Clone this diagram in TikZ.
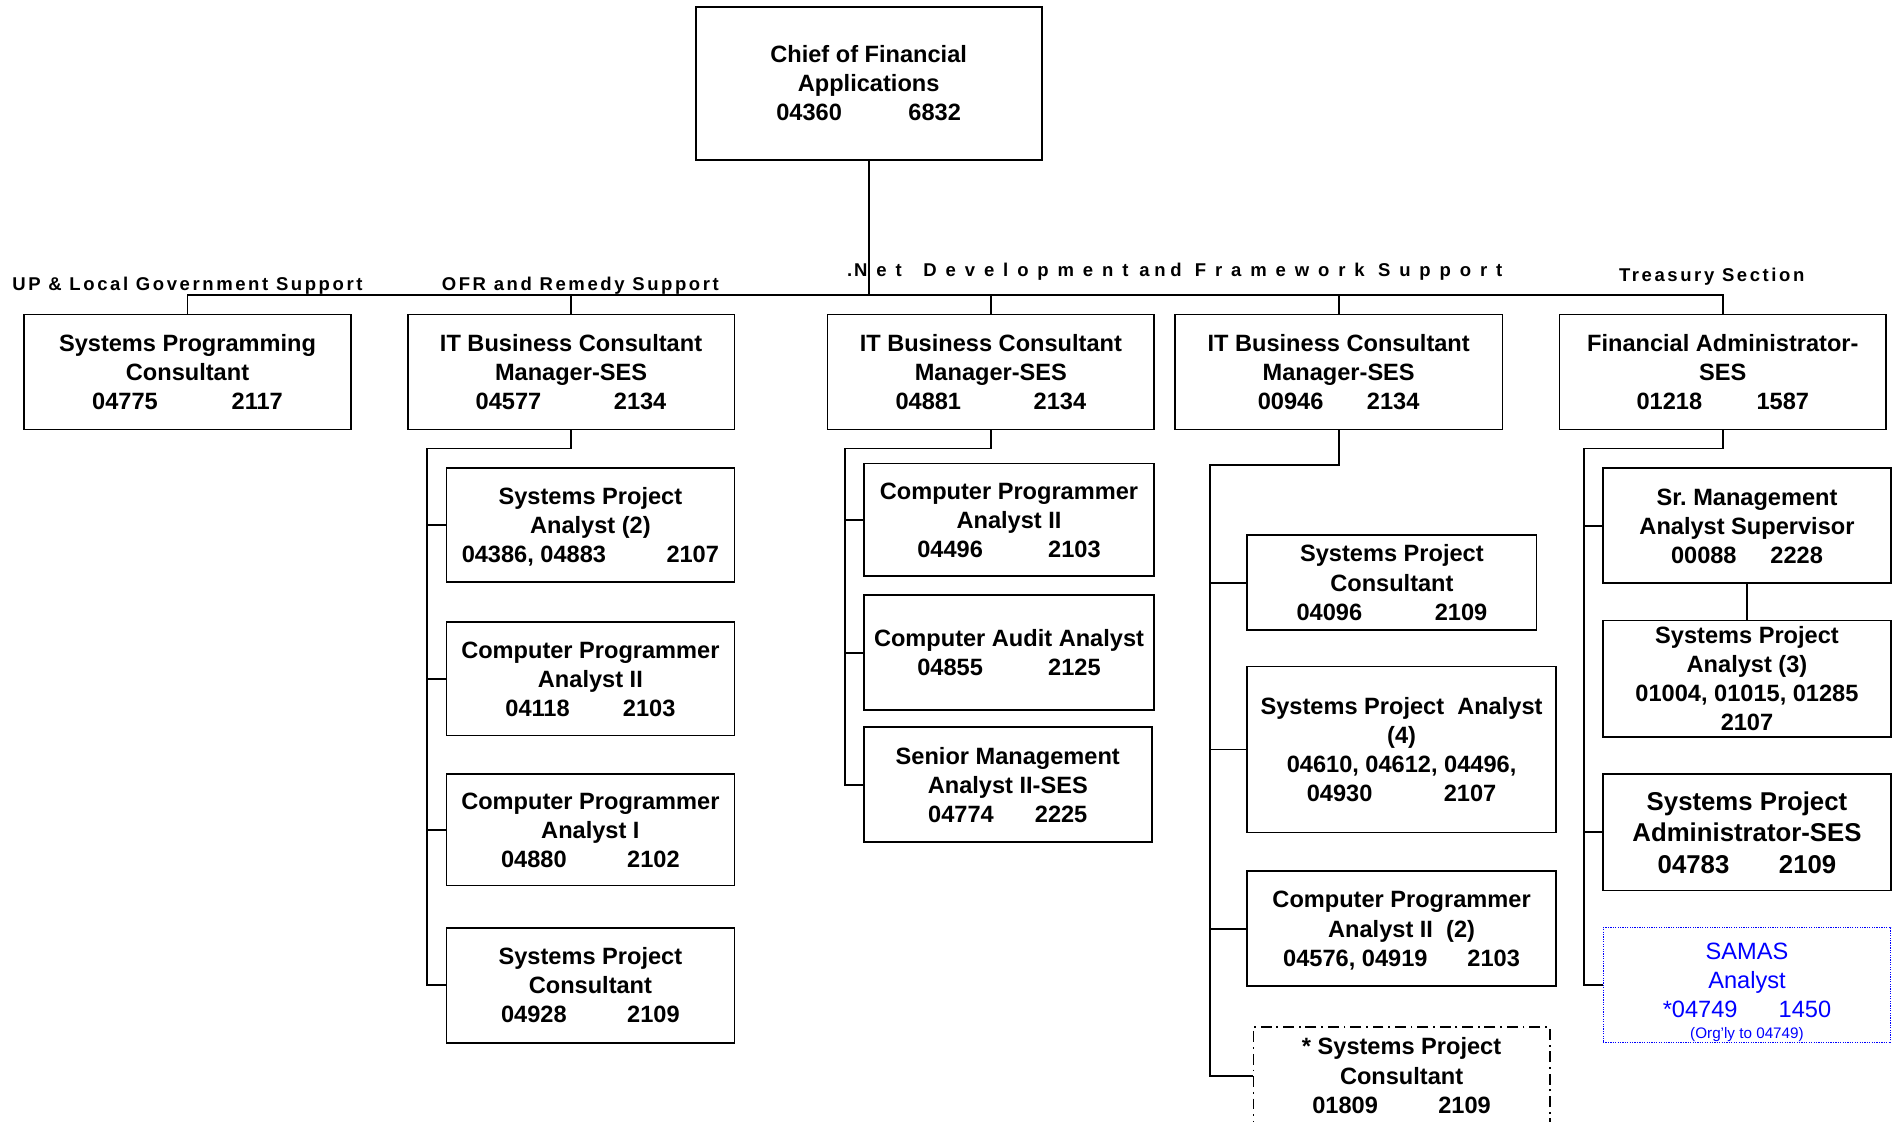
\documentclass[tikz,border=0pt]{standalone}
\usepackage{fontspec}
\setmainfont{Liberation Sans}
\usetikzlibrary{calc}
\definecolor{samasblue}{RGB}{0,0,255}
% line struts keep the text block centred on the cap line of each row
\newcommand\rs{\rule[-5pt]{0pt}{24pt}}
\newcommand\rsb{\rule[-5.4pt]{0pt}{26pt}}
\newcommand\boxfont{\fontsize{19.5}{24}\selectfont\bfseries}
\newcommand\bigboxfont{\fontsize{21.3}{26}\selectfont\bfseries}
\newcommand\secfont{\fontsize{15.3}{18}\selectfont\bfseries\addfontfeature{LetterSpace=14}}
\newcommand\wide[1]{{\addfontfeature{LetterSpace=48}#1}}
\newcommand\midspaced[1]{{\addfontfeature{LetterSpace=25}#1}}

\begin{document}
\frenchspacing
\begin{tikzpicture}[x=1pt,y=-1pt,
  box/.style={draw, line width=1.4pt, inner sep=0pt, align=center, font=\boxfont},
  dashdotbox/.style={box, dash pattern=on 9pt off 4pt on 1.5pt off 4pt},
  dotbox/.style={draw=samasblue, line width=0.8pt, dash pattern=on 1pt off 1pt, inner sep=0pt},
  link/.style={line width=1.6pt},
  section/.style={inner sep=0pt, anchor=base west, font=\secfont},
]
\useasboundingbox (0,0) rectangle (1568,927);
\clip (0,0) rectangle (1568,927);

% section headings
\node[section] (hup)  at (10,240.5)   {UP \& Local Government Support};
\node[section] (hofr) at (365,240.5)  {OFR and Remedy Support};
\node[section] (hnet) at (700,228.5)
  {.\hspace{1.5pt}\wide{Net}\hspace{18pt}\wide{Development}\hspace{9pt}\midspaced{and}\hspace{11pt}\wide{Framework}\hspace{11pt}\wide{Support}};
\node[section] (htr)  at (1338,232.5) {Treasury Section};

% head of the unit
\node[box, minimum width=286pt, minimum height=126pt] (chief) at (718,69)
  {\rs Chief of Financial\\\rs Applications\\\rs 04360\hspace{55pt}6832};

% section leads
\node[box, minimum width=270pt, minimum height=95pt] (spc1) at (155,307.5)
  {\rs Systems Programming\\\rs Consultant\\\rs 04775\hspace{61pt}2117};
\node[box, minimum width=270pt, minimum height=95pt] (itb1) at (472,307.5)
  {\rs IT Business Consultant\\\rs Manager-SES\\\rs 04577\hspace{60pt}2134};
\node[box, minimum width=270pt, minimum height=95pt] (itb2) at (819,307.5)
  {\rs IT Business Consultant\\\rs Manager-SES\\\rs 04881\hspace{60pt}2134};
\node[box, minimum width=271pt, minimum height=95pt] (itb3) at (1106.5,307.5)
  {\rs IT Business Consultant\\\rs Manager-SES\\\rs 00946\hspace{36pt}2134};
\node[box, minimum width=270pt, minimum height=95pt] (fa) at (1424,307.5)
  {\rs Financial Administrator-\\\rs SES\\\rs 01218\hspace{45pt}1587};

% OFR and Remedy Support
\node[box, minimum width=238pt, minimum height=94pt] (spa2) at (488,434)
  {\rs Systems Project\\\rs Analyst (2)\\\rs 04386, 04883\hspace{50pt}2107};
\node[box, minimum width=238pt, minimum height=94pt] (cpa2a) at (488,561)
  {\rs Computer Programmer\\\rs Analyst II\\\rs 04118\hspace{44pt}2103};
\node[box, minimum width=238pt, minimum height=92pt] (cpa1) at (488,686)
  {\rs Computer Programmer\\\rs Analyst I\\\rs 04880\hspace{50pt}2102};
\node[box, minimum width=238pt, minimum height=95pt] (spc2) at (488,814.5)
  {\rs Systems Project\\\rs Consultant\\\rs 04928\hspace{50pt}2109};

% .Net development
\node[box, minimum width=240pt, minimum height=93pt] (cpa2b) at (834,429.5)
  {\rs Computer Programmer\\\rs Analyst II\\\rs 04496\hspace{54pt}2103};
\node[box, minimum width=240pt, minimum height=95pt] (caa) at (834,539.5)
  {\rs Computer Audit Analyst\\\rs 04855\hspace{54pt}2125};
\node[box, minimum width=238pt, minimum height=95pt] (sma) at (833,648.5)
  {\rs Senior Management\\\rs Analyst II-SES\\\rs 04774\hspace{34pt}2225};

% framework support
\node[box, minimum width=239pt, minimum height=79pt] (spc3) at (1150.5,481.5)
  {\rs Systems Project\\\rs Consultant\\\rs 04096\hspace{60pt}2109};
\node[box, minimum width=255pt, minimum height=137pt] (spa4) at (1158.5,619.5)
  {\rs Systems Project\ \ Analyst\\\rs (4)\\\rs 04610, 04612, 04496,\\\rs 04930\hspace{59pt}2107};
\node[box, minimum width=255pt, minimum height=95pt] (cpa2c) at (1158.5,767.5)
  {\rs Computer Programmer\\\rs Analyst II\ \ (2)\\\rs 04576, 04919\hspace{33pt}2103};
\node[dashdotbox, minimum width=245pt, minimum height=80pt] (spc4) at (1158.5,889)
  {\rs * Systems Project\\\rs Consultant\\\rs 01809\hspace{50pt}2109};

% Treasury section
\node[box, minimum width=238pt, minimum height=95pt] (sr) at (1444,434.5)
  {\rs Sr. Management\\\rs Analyst Supervisor\\\rs 00088\hspace{28pt}2228};
\node[box, minimum width=238pt, minimum height=94pt] (spa3) at (1444,561)
  {\rs Systems Project\\\rs Analyst (3)\\\rs 01004, 01015, 01285\\\rs 2107};
\node[box, font=\bigboxfont, minimum width=238pt, minimum height=96pt] (admin) at (1444,688)
  {\rsb Systems Project\\\rsb Administrator-SES\\\rsb 04783\hspace{41pt}2109};
\node[dotbox, minimum width=238pt, minimum height=95pt] (samas) at (1444,814.5) {};
\node[inner sep=0pt, anchor=north, align=center, text=samasblue,
      font=\fontsize{19.5}{24}\selectfont] (samastxt) at (1444,774)
  {\rs SAMAS\\\rs Analyst\\\rs *04749\hspace{34pt}1450\\[-7pt]{\fontsize{12.6}{14}\selectfont (Org’ly to 04749)}};

% reporting lines
\coordinate (bus) at (0,244);
\draw[link] (chief.south) -- (chief.south |- bus);
\draw[link] (spc1.north) -- (spc1.north |- bus) -- (fa.north |- bus) -- (fa.north);
\foreach \n in {itb1,itb2,itb3} \draw[link] (\n.north) -- (\n.north |- bus);

\draw[link] (itb1.south) -- ++(0,15) -| ([xshift=-15pt]spc2.west) -- (spc2.west);
\foreach \n in {spa2,cpa2a,cpa1} \draw[link] (\n.west) -- ++(-15,0);

\draw[link] (itb2.south) -- ++(0,15) -| ([xshift=-15pt]sma.west) -- (sma.west);
\foreach \n in {cpa2b,caa} \draw[link] (\n.west) -- ++(-15,0);

\draw[link] (itb3.south) -- ++(0,29) -| ([xshift=-35pt]spc4.west) -- (spc4.west);
\foreach \n in {spc3,spa4,cpa2c} \draw[link] (\n.west) -- ++(-30,0);

\draw[link] (fa.south) -- ++(0,15) -| ([xshift=-15pt]samas.west) -- (samas.west);
\foreach \n in {sr,admin} \draw[link] (\n.west) -- ++(-15,0);
\draw[link] (sr.south) -- (spa3.north);
\end{tikzpicture}
\end{document}
